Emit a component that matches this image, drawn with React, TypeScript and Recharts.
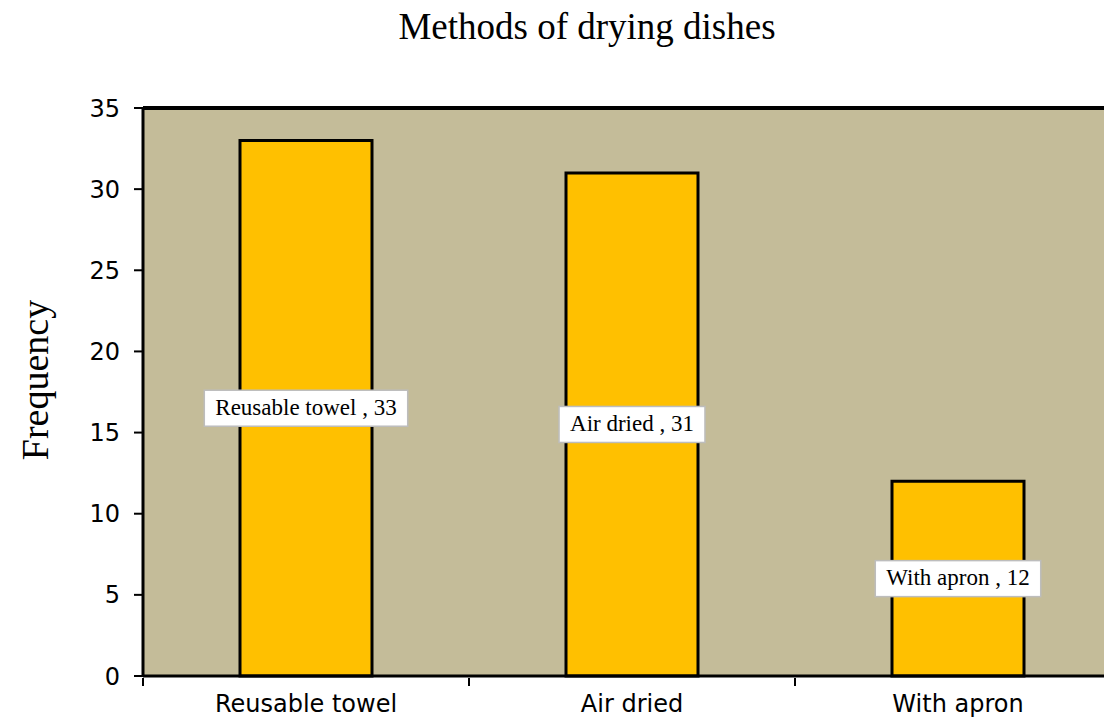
import React from "react";
import {
  BarChart, Bar, XAxis, YAxis, CartesianGrid, LabelList, ReferenceLine,
} from "recharts";

const methods = ["Reusable towel", "Air dried", "With apron"];
const frequencies = [33, 31, 12];
const yTicks = [0, 5, 10, 15, 20, 25, 30, 35];

const data = methods.map((name, i) => ({ name, value: frequencies[i] }));

const serif = "'Liberation Serif', 'Times New Roman', serif";
const sans = "'DejaVu Sans', Verdana, sans-serif";

let ctx: CanvasRenderingContext2D | null = null;
function textWidth(s: string, font: string) {
  if (!ctx) ctx = document.createElement("canvas").getContext("2d");
  if (!ctx) return s.length * 10;
  ctx.font = font;
  return ctx.measureText(s).width;
}

function BoxLabel(props: any) {
  const { x, y, width, height, index } = props;
  const text = `${methods[index]} , ${frequencies[index]}`;
  const w = textWidth(text, `23px ${serif}`) + 22;
  const h = 36;
  const cx = x + width / 2;
  const cy = y + height / 2;
  return (
    <g>
      <rect x={cx - w / 2} y={cy - h / 2} width={w} height={h} fill="#fff" stroke="#bdbdbd" strokeWidth={1.5} />
      <text x={cx} y={cy + 1} textAnchor="middle" dominantBaseline="middle" fontFamily={serif} fontSize={23} fill="#000">
        {text}
      </text>
    </g>
  );
}

// category tick: label at centre, tick mark at left band edge
function CatTick(props: any) {
  const { x, y, payload } = props;
  const band = 326;
  const edge = x - band / 2;
  return (
    <g>
      <line x1={edge} y1={y - 12} x2={edge} y2={y - 4} stroke="#000" strokeWidth={2} />
      <text x={x} y={y + 22} textAnchor="middle" fontFamily={sans} fontSize={24} fill="#000">
        {payload.value}
      </text>
    </g>
  );
}

export default function App() {
  return (
    <div style={{ width: 1104, height: 712, position: "relative" }}>
      <svg width={1104} height={68} style={{ position: "absolute", left: 0, top: -8 }}>
        <text x={579} y={39} textAnchor="middle" fontFamily={serif} fontSize={37} fill="#000">
          Methods of drying dishes
        </text>
      </svg>
      <svg width={60} height={712} style={{ position: "absolute", left: 0, top: 0 }}>
        <text
          x={31}
          y={372}
          transform="rotate(-90 31 372)"
          textAnchor="middle"
          dominantBaseline="middle"
          fontFamily={serif}
          fontSize={38}
          fill="#000"
        >
          Frequency
        </text>
      </svg>
      <div style={{ position: "absolute", left: 60, top: 60, width: 1044, height: 650, overflow: "hidden" }}>
        <BarChart
          width={1070}
          height={650}
          data={data}
          margin={{ top: 40, right: 17, left: 5, bottom: 2 }}
          barSize={132}
        >
          <CartesianGrid fill="#C4BC99" horizontal={false} vertical={false} />
          <XAxis
            dataKey="name"
            axisLine={{ stroke: "#000", strokeWidth: 3 }}
            tickLine={false}
            tick={<CatTick />}
            tickMargin={8}
            height={40}
          />
          <YAxis
            domain={[0, 35]}
            ticks={yTicks}
            width={70}
            axisLine={{ stroke: "#000", strokeWidth: 3 }}
            tickLine={{ stroke: "#000", strokeWidth: 2 }}
            tickSize={9}
            tick={{ fill: "#000", fontSize: 24, fontFamily: sans }}
            tickMargin={14}
          />
          <ReferenceLine y={35} stroke="#000" strokeWidth={4} />
          <Bar
            dataKey="value"
            fill="#FFC000"
            stroke="#000"
            strokeWidth={3}
            isAnimationActive={false}
          >
            <LabelList dataKey="value" content={<BoxLabel />} />
          </Bar>
        </BarChart>
      </div>
    </div>
  );
}
